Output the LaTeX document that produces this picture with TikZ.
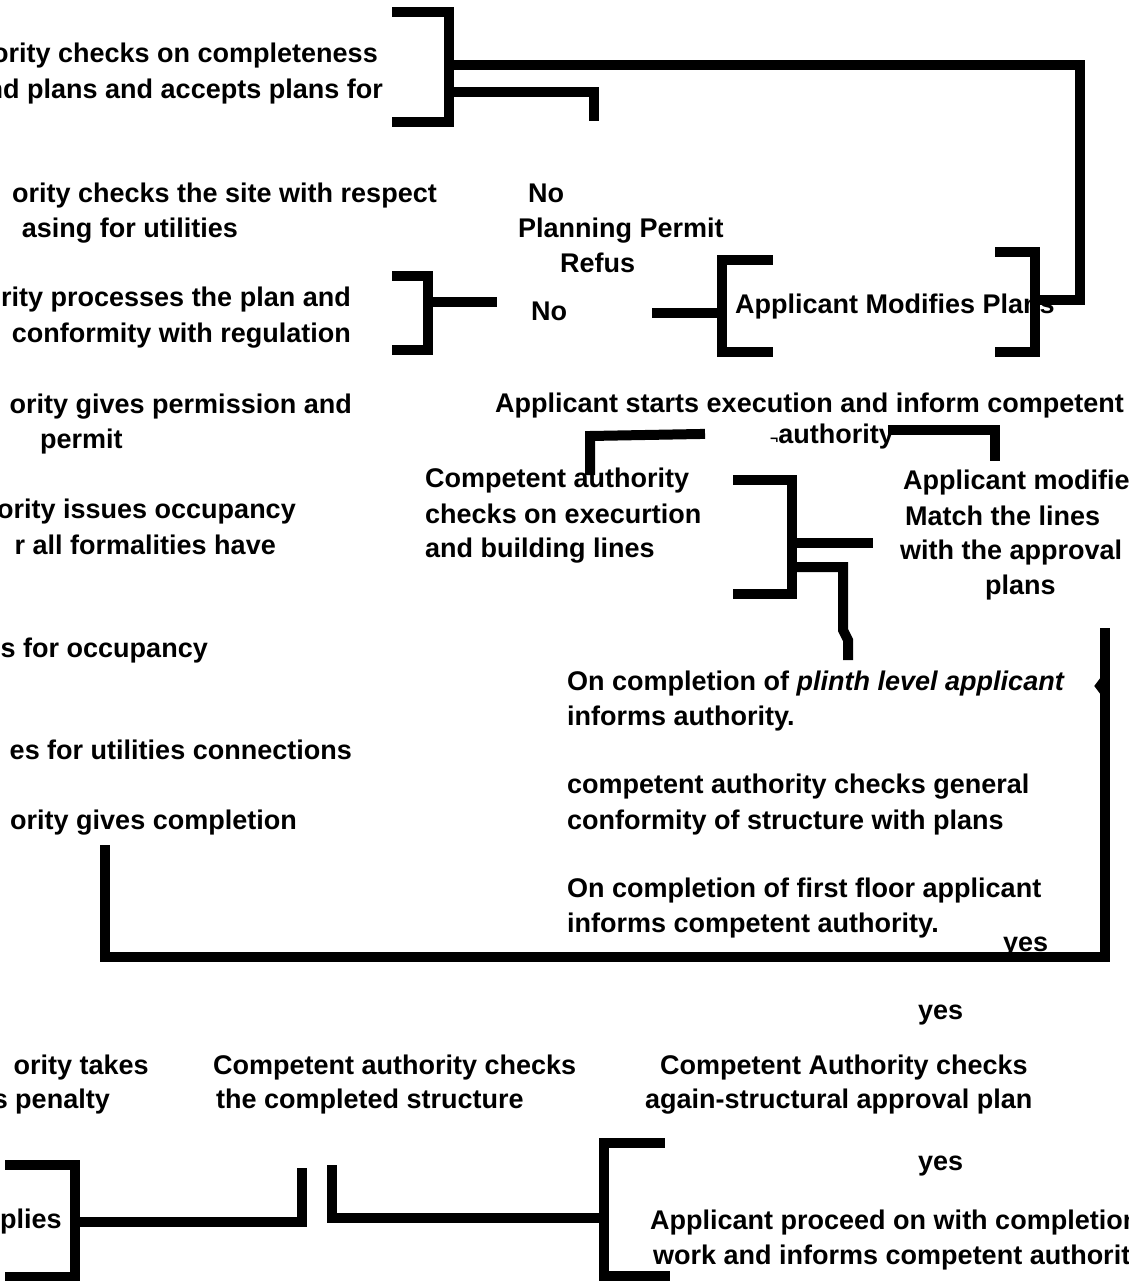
\documentclass[tikz,border=0pt]{standalone}
\usepackage{fontspec}
\setmainfont{Liberation Sans}
\begin{document}
\begin{tikzpicture}[x=1pt,y=-1pt,
  every node/.style={inner sep=0pt,yshift=-5pt,font=\bfseries\fontsize{27}{32}\selectfont},
  lt/.style={anchor=mid west},
  rt/.style={anchor=mid east},
  bar/.style={line width=10pt,line join=miter,line cap=rect}]
\useasboundingbox (0,0) rectangle (1128,1281);

% left column (text runs in from the left edge)
\node[rt] (l1a) at (378,55) {ority checks on completeness};
\node[rt] (l1b) at (383,91) {nd plans and accepts plans for};
\node[rt] (l2a) at (437,195) {ority checks the site with respect};
\node[rt] (l2b) at (238,230) {asing for utilities};
\node[rt] (l3a) at (351,299) {rity processes the plan and};
\node[rt] (l3b) at (351,335) {conformity with regulation};
\node[rt] (l4a) at (352,406) {ority gives permission and};
\node[lt] (l4b) at (40,441) {permit};
\node[rt] (l5a) at (296,511) {ority issues occupancy};
\node[rt] (l5b) at (276,547) {r all formalities have};
\node[rt] (l6) at (208,650) {s for occupancy};
\node[rt] (l7) at (352,752) {es for utilities connections};
\node[rt] (l8) at (297,822) {ority gives completion};
\node[rt] (l9a) at (149,1067) {ority takes};
\node[rt] (l9b) at (110,1101) {s penalty};
\node[lt] (l10) at (0,1221) {plies};

% planning decision
\node[lt] (no1) at (528,195) {No};
\node[lt] (ppr) at (518,230) {Planning Permit};
\node[lt] (ref) at (560,265) {Refus};
\node[lt] (no2) at (531,313) {No};
\node[lt] (amp) at (735,306) {Applicant Modifies Plans};

% execution
\node[lt] (ase) at (495,405) {Applicant starts execution and inform competent};
\node[lt] (aut) at (770,436) {{\fontsize{14}{14}\selectfont ¬}authority};
\node[lt] (ca1) at (425,480) {Competent authority};
\node[lt] (ca2) at (425,516) {checks on execurtion};
\node[lt] (ca3) at (425,550) {and building lines};
\node[lt] (am1) at (903,482) {Applicant modifies};
\node[lt] (am2) at (905,518) {Match the lines};
\node[lt] (am3) at (900,552) {with the approval};
\node[lt] (am4) at (985,587) {plans};

% inspections during construction
\node[lt] (pl1) at (567,683) {On completion of \textit{plinth level applicant}};
\node[lt] (pl2) at (567,718) {informs authority.};
\node[lt] (gc1) at (567,786) {competent authority checks general};
\node[lt] (gc2) at (567,822) {conformity of structure with plans};
\node[lt] (ff1) at (567,890) {On completion of first floor applicant};
\node[lt] (ff2) at (567,925) {informs competent authority.};
\node[lt] (y1) at (1003,944) {yes};
\node[lt] (y2) at (918,1012) {yes};

% final checks
\node[lt] (cs1) at (213,1067) {Competent authority checks};
\node[lt] (cs2) at (216,1101) {the completed structure};
\node[lt] (sa1) at (660,1067) {Competent Authority checks};
\node[lt] (sa2) at (645,1101) {again-structural approval plan};
\node[lt] (y3) at (918,1163) {yes};
\node[lt] (ap1) at (650,1222) {Applicant proceed on with completion};
\node[lt] (ap2) at (653,1257) {work and informs competent authority};

% brackets and connectors
\draw[bar] (397,12) -- (449,12) -- (449,122) -- (397,122);
\draw[bar] (449,65) -- (1080,65) -- (1080,300) -- (1035,300);
\draw[bar] (449,92) -- (594,92) -- (594,116);
\draw[bar] (397,276) -- (428,276) -- (428,350) -- (397,350);
\draw[bar] (428,302) -- (492,302);
\draw[bar] (657,313) -- (722,313);
\draw[bar] (768,260) -- (722,260) -- (722,352) -- (768,352);
\draw[bar] (1000,252) -- (1035,252) -- (1035,352) -- (1000,352);
\draw[bar] (700,434) -- (590,436) -- (590,470);
\draw[bar] (893,430) -- (995,430) -- (995,456);
\draw[bar] (738,480) -- (792,480) -- (792,594) -- (738,594);
\draw[bar] (792,543) -- (868,543);
\draw[bar] (792,567) -- (843,567) -- (843,630) -- (848,640) -- (848,655);
\draw[bar] (1105,633) -- (1105,957) -- (105,957) -- (105,850);
\draw[line width=6pt] (1104,678) -- (1098,686) -- (1104,694);
\draw[bar] (10,1165) -- (75,1165) -- (75,1277) -- (10,1277);
\draw[bar] (75,1222) -- (302,1222) -- (302,1173);
\draw[bar] (332,1170) -- (332,1218) -- (604,1218);
\draw[bar] (660,1143) -- (604,1143) -- (604,1276) -- (665,1276);
\end{tikzpicture}
\end{document}
